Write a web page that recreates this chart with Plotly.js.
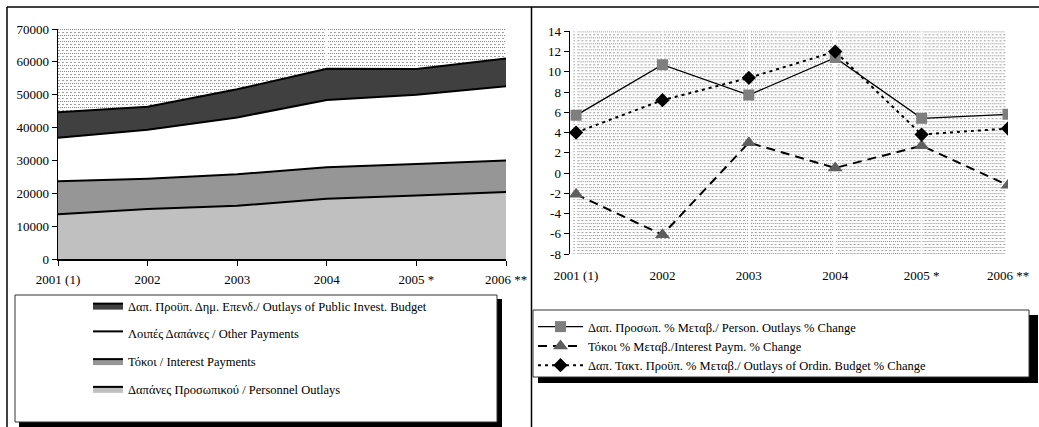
<!DOCTYPE html>
<html>
<head>
<meta charset="utf-8">
<script src="https://cdn.plot.ly/plotly-3.0.1.min.js"></script>
<style>html,body{margin:0;padding:0;background:#fff;}#chart{width:1039px;height:427px;}</style>
</head>
<body>
<div id="chart"></div>
<script>
// ---- data ----
const years = ['2001 (1)', '2002', '2003', '2004', '2005 *', '2006 **'];
const personnelOutlays = [13600, 15200, 16200, 18350, 19300, 20400];
const interestPayments = [10050, 9250, 9600, 9550, 9600, 9600];
const otherPayments = [13250, 14900, 17300, 20500, 21100, 22550];
const publicInvestOutlays = [7750, 7000, 8550, 9500, 7800, 8500];

const personnelPct = [5.7, 10.7, 7.7, 11.4, 5.4, 5.8];
const interestPct = [-2.1, -6.1, 3.0, 0.5, 2.7, -1.2];
const ordinaryPct = [4.0, 7.2, 9.4, 12.0, 3.8, 4.4];

const leftNames = [
  'Δαπάνες Προσωπικού / Personnel Outlays',
  'Τόκοι / Interest Payments',
  'Λοιπές Δαπάνες / Other Payments',
  'Δαπ. Προϋπ. Δημ. Επενδ./ Outlays of Public Invest. Budget'
];
const rightNames = [
  'Δαπ. Προσωπ. % Μεταβ./ Person. Outlays % Change',
  'Τόκοι % Μεταβ./Interest Paym. % Change',
  'Δαπ. Τακτ. Προϋπ. % Μεταβ./ Outlays of Ordin. Budget % Change'
];
const rightTicks = [-8, -6, -4, -2, 0, 2, 4, 6, 8, 10, 12, 14];

// ---- helpers ----
const W = 1039, H = 427;
const px = x => x / W;
const py = y => 1 - y / H;
const FONT = 'Liberation Serif';

function makePattern(w, h) {
  const c = document.createElement('canvas');
  c.width = w; c.height = h;
  const g = c.getContext('2d');
  g.fillStyle = '#ffffff';
  g.fillRect(0, 0, w, h);
  for (let y = 0; y < h; y += 3) {
    const r = (y / 3) % 2;
    for (let x = 0; x < w; x++) {
      if (r === 0 ? (x % 2 === 0) : (x % 4 < 2)) {
        g.fillStyle = r === 0 ? '#888888' : '#a0a0a0';
        g.fillRect(x, y, 1, 1);
      }
    }
  }
  return c.toDataURL();
}

const leftX = [58, 506], leftY = [29, 259];
const rightX = [570, 1008], rightY = [31.3, 254];

// ---- traces ----
const areaColors = ['#c0c0c0', '#969696', '#ffffff', '#404040'];
const areaData = [personnelOutlays, interestPayments, otherPayments, publicInvestOutlays];
const traces = [];
areaData.forEach((vals, i) => {
  traces.push({
    x: years, y: vals, type: 'scatter', mode: 'lines',
    stackgroup: 'one', name: leftNames[i],
    fillcolor: areaColors[i],
    line: {color: '#000', width: 2},
    legendgroup: 'g' + i, legendrank: 4 - i,
    xaxis: 'x', yaxis: 'y', legend: 'legend'
  });
});

const lineSpecs = [
  {y: personnelPct, dash: 'solid', width: 1.3, symbol: 'square', size: 11, color: '#7f7f7f'},
  {y: interestPct, dash: '9px,6px', width: 2, symbol: 'triangle-up', size: 13, color: '#5f5f5f'},
  {y: ordinaryPct, dash: '3px,4px', width: 2, symbol: 'diamond', size: 11, color: '#000000'}
];
lineSpecs.forEach((s, i) => {
  traces.push({
    x: years, y: s.y, type: 'scatter', mode: 'lines+markers',
    name: rightNames[i],
    line: {color: '#000', width: s.width, dash: s.dash},
    marker: {symbol: s.symbol, size: s.size, color: s.color, line: {width: 0}},
    xaxis: 'x2', yaxis: 'y2', legend: 'legend2'
  });
});

const tickFont = {family: FONT, size: 13, color: '#000'};

const layout = {
  width: W, height: H,
  margin: {l: 0, r: 0, t: 0, b: 0},
  paper_bgcolor: '#fff',
  plot_bgcolor: 'rgba(0,0,0,0)',
  font: {family: FONT, color: '#000'},
  xaxis: {
    domain: [px(leftX[0]), px(leftX[1])],
    anchor: 'y', type: 'category', range: [0, 5],
    showline: true, linecolor: '#000', linewidth: 1.5,
    ticks: 'outside', ticklen: 5, tickcolor: '#000',
    showgrid: true, gridcolor: '#ffffff', gridwidth: 1.5,
    tickfont: tickFont, ticklabelstandoff: 3, fixedrange: true
  },
  yaxis: {
    domain: [py(leftY[1]), py(leftY[0])],
    anchor: 'x', range: [0, 70000], dtick: 10000, tickformat: 'd',
    showline: true, linecolor: '#000', linewidth: 1.5,
    ticks: 'outside', ticklen: 5, tickcolor: '#000',
    showgrid: false, zeroline: false, tickfont: tickFont, fixedrange: true
  },
  xaxis2: {
    domain: [px(rightX[0]), px(rightX[1])],
    anchor: 'y2', type: 'category', range: [-0.07, 5],
    showline: false, ticks: '',
    showgrid: true, gridcolor: '#ffffff', gridwidth: 1.5,
    tickfont: tickFont, ticklabelstandoff: 12, fixedrange: true
  },
  xaxis3: {
    domain: [px(rightX[0]), px(rightX[1])],
    overlaying: 'x2', anchor: 'free',
    position: py(rightY[1]) + (8 / 22) * (py(rightY[0]) - py(rightY[1])),
    type: 'category', categoryorder: 'array', categoryarray: years,
    range: [-0.07, 5],
    showline: true, linecolor: '#000', linewidth: 1.5,
    ticks: 'outside', ticklen: 5, tickcolor: '#000',
    showticklabels: false, showgrid: false, fixedrange: true
  },
  yaxis2: {
    domain: [py(rightY[1]), py(rightY[0])],
    anchor: 'x2', range: [-8, 14],
    tickvals: rightTicks, ticktext: rightTicks.map(v => String(v)),
    showline: true, linecolor: '#000', linewidth: 1.5,
    ticks: 'outside', ticklen: 5, tickcolor: '#000',
    showgrid: false, zeroline: false, tickfont: tickFont, fixedrange: true
  },
  legend: {
    x: px(88), y: py(291), xanchor: 'left', yanchor: 'top',
    bgcolor: 'rgba(0,0,0,0)', borderwidth: 0,
    traceorder: 'grouped', tracegroupgap: 8.5,
    font: {family: FONT, size: 12.5, color: '#000'}
  },
  legend2: {
    x: px(533), y: py(312), xanchor: 'left', yanchor: 'top',
    bgcolor: 'rgba(0,0,0,0)', borderwidth: 0, itemwidth: 45,
    traceorder: 'normal',
    font: {family: FONT, size: 12.5, color: '#000'}
  },
  images: [
    {source: makePattern(leftX[1] - leftX[0], leftY[1] - leftY[0]),
     xref: 'x', yref: 'y', x: 0, y: 70000, sizex: 5, sizey: 70000,
     xanchor: 'left', yanchor: 'top', sizing: 'stretch', layer: 'below'},
    {source: makePattern(rightX[1] - rightX[0], Math.round(rightY[1] - rightY[0])),
     xref: 'x2', yref: 'y2', x: -0.03, y: 14, sizex: 5.0, sizey: 22,
     xanchor: 'left', yanchor: 'top', sizing: 'stretch', layer: 'below'}
  ],
  shapes: [
    {type: 'line', xref: 'paper', yref: 'paper', x0: px(7), x1: 1, y0: py(7), y1: py(7), line: {color: '#000', width: 1.5}},
    {type: 'line', xref: 'paper', yref: 'paper', x0: px(7), x1: px(7), y0: py(7), y1: 0, line: {color: '#000', width: 1.5}},
    {type: 'line', xref: 'paper', yref: 'paper', x0: px(531.5), x1: px(531.5), y0: py(7), y1: 0, line: {color: '#000', width: 1.5}},
    {type: 'rect', xref: 'paper', yref: 'paper', x0: px(19), x1: px(502), y0: py(427), y1: py(299), fillcolor: '#000', line: {width: 0}},
    {type: 'rect', xref: 'paper', yref: 'paper', x0: px(15), x1: px(497), y0: py(422), y1: py(295), fillcolor: '#fff', line: {color: '#333', width: 1}},
    {type: 'rect', xref: 'paper', yref: 'paper', x0: px(538), x1: px(1038), y0: py(383), y1: py(315), fillcolor: '#000', line: {width: 0}},
    {type: 'rect', xref: 'paper', yref: 'paper', x0: px(533), x1: px(1029), y0: py(377), y1: py(310), fillcolor: '#fff', line: {color: '#333', width: 1}}
  ],
  showlegend: true
};

Plotly.newPlot('chart', traces, layout, {displayModeBar: false, staticPlot: true});
</script>
</body>
</html>
